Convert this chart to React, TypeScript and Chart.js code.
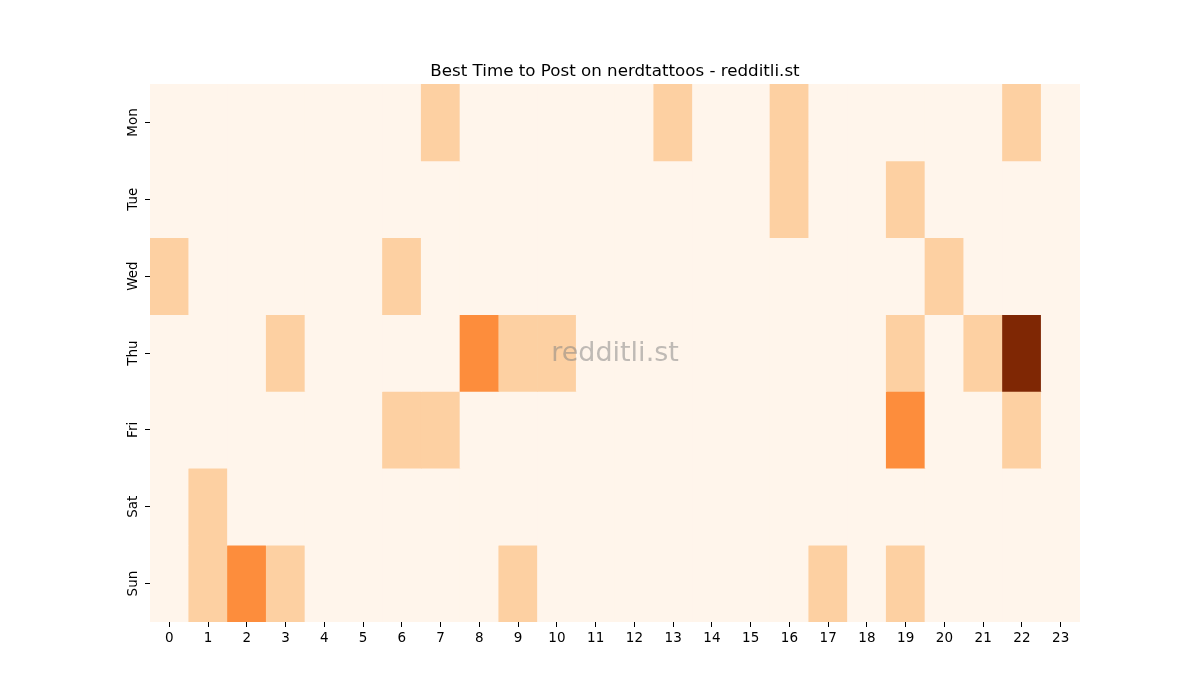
import React, { useEffect, useRef } from "react";
import { Chart, registerables } from "chart.js";

Chart.register(...registerables);

const days = ["Mon", "Tue", "Wed", "Thu", "Fri", "Sat", "Sun"];
const hours = Array.from({ length: 24 }, (_, i) => String(i));

const mon = [0,0,0,0,0,0,0,1,0,0,0,0,0,1,0,0,1,0,0,0,0,0,1,0];
const tue = [0,0,0,0,0,0,0,0,0,0,0,0,0,0,0,0,1,0,0,1,0,0,0,0];
const wed = [1,0,0,0,0,0,1,0,0,0,0,0,0,0,0,0,0,0,0,0,1,0,0,0];
const thu = [0,0,0,1,0,0,0,0,2,1,1,0,0,0,0,0,0,0,0,1,0,1,3,0];
const fri = [0,0,0,0,0,0,1,1,0,0,0,0,0,0,0,0,0,0,0,2,0,0,1,0];
const sat = [0,1,0,0,0,0,0,0,0,0,0,0,0,0,0,0,0,0,0,0,0,0,0,0];
const sun = [0,1,2,1,0,0,0,0,0,1,0,0,0,0,0,0,0,1,0,1,0,0,0,0];

const grid = [mon, tue, wed, thu, fri, sat, sun];
const palette = ["#fff5eb", "#fdd0a2", "#fd8d3c", "#7f2704"];

const FONT = "'DejaVu Sans', sans-serif";

export default function App() {
  const ref = useRef<HTMLCanvasElement>(null);
  useEffect(() => {
    const overlay = {
      id: "overlay",
      afterDraw(chart: any) {
        const ctx = chart.ctx;
        const a = chart.chartArea;
        const ys = chart.scales.y;
        ctx.save();
        ctx.fillStyle = "#000";
        ctx.font = `16.7px ${FONT}`;
        ctx.textAlign = "center";
        ctx.textBaseline = "alphabetic";
        ctx.fillText("Best Time to Post on nerdtattoos - redditli.st", (a.left + a.right) / 2, 76);
        // y tick labels, rotated
        ctx.font = `13.5px ${FONT}`;
        ctx.textBaseline = "middle";
        days.forEach((d, i) => {
          const py = ys.getPixelForValue(i + 0.5);
          ctx.save();
          ctx.translate(a.left - 17, py);
          ctx.rotate(-Math.PI / 2);
          ctx.fillText(d, 0, 0);
          ctx.restore();
        });
        ctx.fillStyle = "rgba(128,128,128,0.5)";
        ctx.font = `27px ${FONT}`;
        ctx.textBaseline = "middle";
        ctx.fillText("redditli.st", (a.left + a.right) / 2, (a.top + a.bottom) / 2 + 1);
        ctx.restore();
      },
    };
    const datasets = grid.map((row, r) => ({
      label: days[r],
      data: row.map(() => [r, r + 1]),
      backgroundColor: row.map((v) => palette[v]),
      borderWidth: 0,
      barPercentage: 1,
      categoryPercentage: 1,
      grouped: false,
    }));
    const chart = new Chart(ref.current!, {
      type: "bar",
      data: { labels: hours, datasets: datasets as any },
      plugins: [overlay],
      options: {
        animation: false,
        responsive: false,
        layout: { padding: { top: 84, right: 120, left: 0, bottom: 0 } },
        plugins: { legend: { display: false }, tooltip: { enabled: false } },
        scales: {
          x: {
            type: "category",
            offset: true,
            grid: { offset: false, drawOnChartArea: false, drawTicks: true, tickLength: 5, color: "#000" },
            border: { display: false },
            ticks: { color: "#000", font: { family: FONT, size: 13.5 }, padding: 3, maxRotation: 0, autoSkip: false },
            afterFit: (s: any) => { s.height = 78; },
          },
          y: {
            type: "linear",
            min: 0,
            max: 7,
            reverse: true,
            afterBuildTicks: (s: any) => { s.ticks = days.map((_, i) => ({ value: i + 0.5 })); },
            grid: { drawOnChartArea: false, drawTicks: true, tickLength: 5, color: "#000" },
            border: { display: false },
            ticks: { display: false },
            afterFit: (s: any) => { s.width = 150; },
          },
        },
      },
    });
    return () => chart.destroy();
  }, []);
  return (
    <div style={{ position: "absolute", left: 0, top: 0, width: 1200, height: 700, background: "#fff" }}>
      <canvas ref={ref} width={1200} height={700} style={{ width: 1200, height: 700 }} />
    </div>
  );
}
